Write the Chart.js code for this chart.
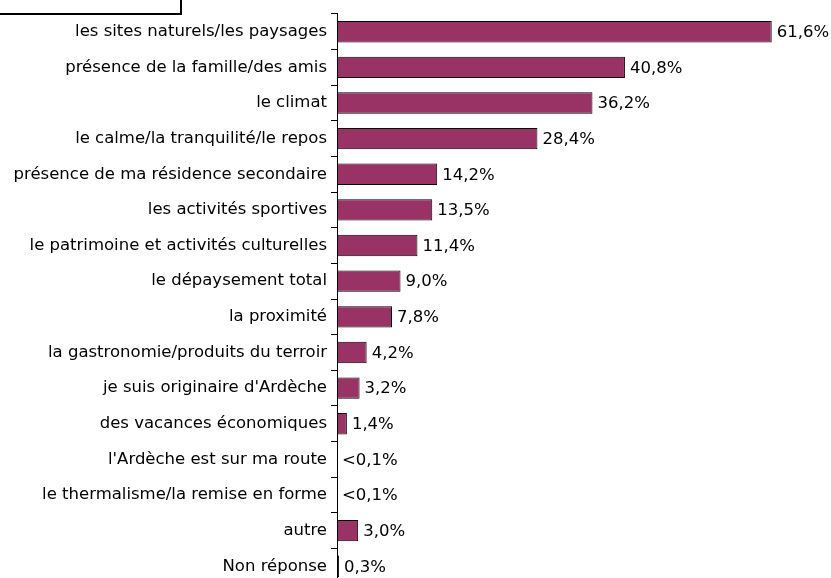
<!DOCTYPE html>
<html>
<head>
<meta charset="utf-8">
<script src="https://cdn.jsdelivr.net/npm/chart.js@4/dist/chart.umd.min.js"></script>
<style>
  html, body { margin: 0; padding: 0; background: #fff; overflow: hidden; }
  #wrap { position: relative; width: 831px; height: 598px; }
  #tag { position: absolute; left: -2px; top: -2px; width: 180px; height: 13px; border: 2px solid #000; background: #fff; }
</style>
</head>
<body>
<div id="wrap">
  <canvas id="myChart" width="831" height="598"></canvas>
  <div id="tag"></div>
</div>
<script>
// Categories and values
const categories = [
    'les sites naturels/les paysages',
    'présence de la famille/des amis',
    'le climat',
    'le calme/la tranquilité/le repos',
    'présence de ma résidence secondaire',
    'les activités sportives',
    'le patrimoine et activités culturelles',
    'le dépaysement total',
    'la proximité',
    'la gastronomie/produits du terroir',
    'je suis originaire d\'Ardèche',
    'des vacances économiques',
    'l\'Ardèche est sur ma route',
    'le thermalisme/la remise en forme',
    'autre',
    'Non réponse'
];
const values = [61.6, 40.8, 36.2, 28.4, 14.2, 13.5, 11.4, 9.0, 7.8, 4.2, 3.2, 1.4, 0, 0, 3.0, 0.3];
const valueLabels = ['61,6%', '40,8%', '36,2%', '28,4%', '14,2%', '13,5%', '11,4%', '9,0%', '7,8%',
    '4,2%', '3,2%', '1,4%', '<0,1%', '<0,1%', '3,0%', '0,3%'];

const FONT = 'DejaVu Sans';

// Writes the percentage after each bar
const barLabels = {
    id: 'barLabels',
    afterDatasetsDraw(chart) {
        const ctx = chart.ctx;
        const meta = chart.getDatasetMeta(0);
        ctx.save();
        ctx.font = '16.5px "' + FONT + '"';
        ctx.fillStyle = '#000';
        ctx.textAlign = 'left';
        ctx.textBaseline = 'middle';
        meta.data.forEach(function (bar, i) {
            ctx.fillText(valueLabels[i], bar.x + 5, bar.y + 1);
        });
        ctx.restore();
    }
};

const ctx = document.getElementById('myChart').getContext('2d');
const myChart = new Chart(ctx, {
    type: 'bar',
    data: {
        labels: categories,
        datasets: [{
            data: values,
            backgroundColor: '#993366',
            borderColor: '#000',
            borderWidth: 1,
            borderSkipped: false,
            barPercentage: 0.6,
            categoryPercentage: 1
        }]
    },
    options: {
        indexAxis: 'y',
        responsive: false,
        animation: false,
        layout: { padding: { top: 13, right: 0, bottom: 0, left: 0 } },
        plugins: {
            legend: { display: false },
            tooltip: { enabled: false }
        },
        scales: {
            x: {
                display: false,
                min: 0,
                max: 70
            },
            y: {
                afterFit(scale) { scale.width = 337; },
                grid: {
                    drawOnChartArea: false,
                    tickLength: 6,
                    color: '#000'
                },
                border: { color: '#000', width: 1 },
                ticks: {
                    color: '#000',
                    padding: 4,
                    font: { family: FONT, size: 16.5 }
                }
            }
        }
    },
    plugins: [barLabels]
});
</script>
</body>
</html>
